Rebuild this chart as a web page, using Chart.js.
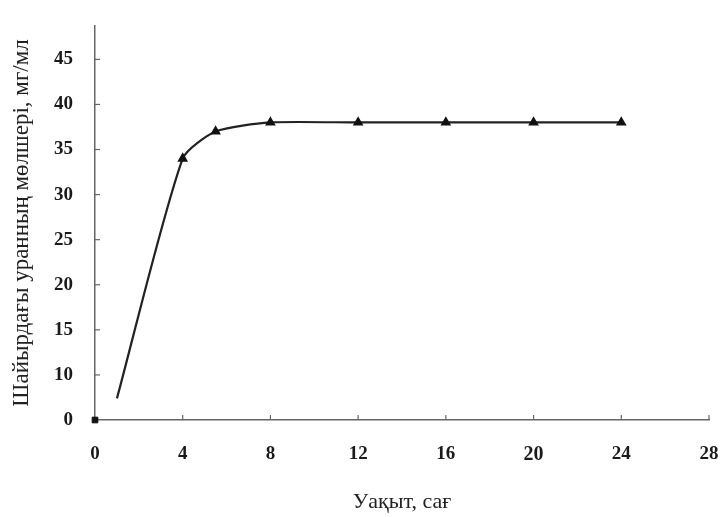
<!DOCTYPE html>
<html>
<head>
<meta charset="utf-8">
<script src="https://cdn.jsdelivr.net/npm/chart.js@4"></script>
<style>
  html, body { margin: 0; padding: 0; background: #fff; }
  #wrap { width: 724px; height: 517px; }
</style>
</head>
<body>
<div id="wrap"><canvas id="sorption"></canvas></div>
<script>
// Уақыт (сағ) және шайырдағы уран мөлшері (мг/мл)
const hours = [1, 4, 5.5, 8, 12, 16, 20, 24];
const uranium = [7.4, 34, 37, 38, 38, 38, 38, 38];
const startPoint = [{ x: 0, y: 0 }];

const xTicks = [0, 4, 8, 12, 16, 20, 24, 28];
const yTicks = [0, 10, 15, 20, 25, 30, 35, 40, 45];

// y осі 0 мен 10 аралығында үзілген: 0 белгісі 5 орнында тұр
const Y_FLOOR = 5;
const plotY = v => Math.max(v, Y_FLOOR);

const serif = '"Liberation Serif", "Times New Roman", serif';

// ішке қараған қысқа белгілер
const innerTicks = {
  id: 'innerTicks',
  afterDraw(chart) {
    const { ctx, scales: { x, y } } = chart;
    ctx.save();
    ctx.strokeStyle = '#666';
    ctx.lineWidth = 1.2;
    x.ticks.forEach(t => {
      if (t.value === 0) return;
      const px = x.getPixelForValue(t.value);
      ctx.beginPath();
      ctx.moveTo(px, y.bottom);
      ctx.lineTo(px, y.bottom - 5);
      ctx.stroke();
    });
    y.ticks.forEach(t => {
      if (t.value === Y_FLOOR) return;
      const py = y.getPixelForValue(t.value);
      ctx.beginPath();
      ctx.moveTo(x.left, py);
      ctx.lineTo(x.left + 5, py);
      ctx.stroke();
    });
    ctx.restore();
  }
};

new Chart(document.getElementById('sorption').getContext('2d'), {
  type: 'line',
  data: {
    datasets: [
      {
        data: hours.map((h, i) => ({ x: h, y: plotY(uranium[i]) })),
        borderColor: '#222',
        borderWidth: 2.2,
        tension: 0.22,
        pointStyle: 'triangle',
        pointRadius: hours.map((h, i) => i === 0 ? 0 : 4),
        pointBackgroundColor: '#111',
        pointBorderColor: '#111',
        fill: false
      },
      {
        data: startPoint.map(p => ({ x: p.x, y: plotY(p.y) })),
        showLine: false,
        pointStyle: 'rect',
        pointRadius: 4,
        pointBackgroundColor: '#111',
        pointBorderColor: '#111',
        clip: false
      }
    ]
  },
  options: {
    responsive: true,
    maintainAspectRatio: false,
    animation: false,
    layout: { padding: { top: 26, right: 15, left: 8, bottom: 0 } },
    plugins: { legend: { display: false }, tooltip: { enabled: false } },
    scales: {
      x: {
        type: 'linear',
        min: 0,
        max: 28,
        afterBuildTicks: s => { s.ticks = xTicks.map(v => ({ value: v })); },
        afterFit: s => { s.height = 97; s.paddingLeft = 0; s.paddingRight = 0; },
        ticks: {
          color: '#1a1a1a',
          padding: 23,
          font: c => ({ family: serif, size: c.tick && c.tick.value === 20 ? 20 : 19, weight: 'bold' })
        },
        grid: { display: false, drawTicks: false },
        border: { color: '#666', width: 1.5 },
        title: {
          display: true,
          text: 'Уақыт, сағ',
          color: '#222',
          padding: { top: 20, bottom: 2 },
          font: { family: serif, size: 22 }
        }
      },
      y: {
        type: 'linear',
        min: Y_FLOOR,
        max: 48.7,
        afterBuildTicks: s => { s.ticks = yTicks.map(v => ({ value: plotY(v) })); },
        afterFit: s => { s.width = 87; s.paddingTop = 0; s.paddingBottom = 0; },
        ticks: {
          color: '#1a1a1a',
          padding: 22,
          font: { family: serif, size: 19, weight: 'bold' },
          callback: v => v === Y_FLOOR ? '0' : v
        },
        grid: { display: false, drawTicks: false },
        border: { color: '#666', width: 1.5 },
        title: {
          display: true,
          text: 'Шайырдағы уранның мөлшері, мг/мл',
          color: '#222',
          padding: { top: 0, bottom: 8 },
          font: { family: serif, size: 23 }
        }
      }
    }
  },
  plugins: [innerTicks]
});
</script>
</body>
</html>
